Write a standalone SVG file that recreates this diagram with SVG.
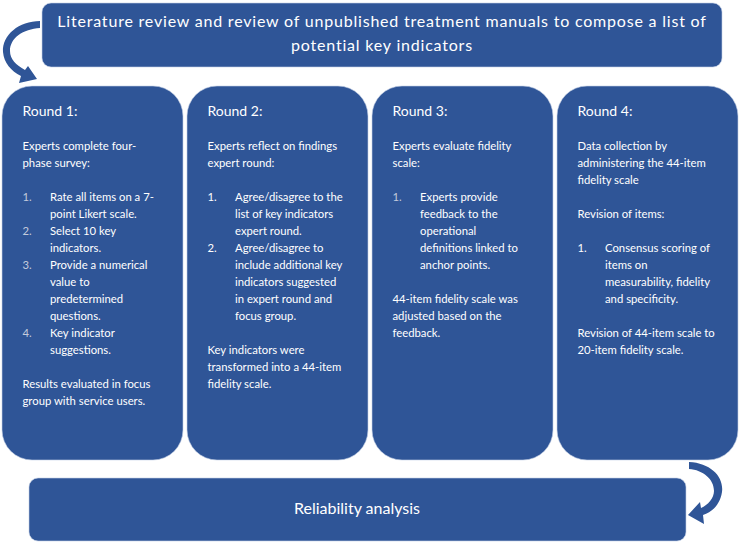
<svg xmlns="http://www.w3.org/2000/svg" width="741" height="545" viewBox="0 0 741 545">
<style>
.box{fill:#2f5597;stroke:#c5d0e6;stroke-width:0.6}
.arrow{fill:#2f5597}
text{font-family:Lato,"Liberation Sans",sans-serif;fill:#ffffff}
.head{font-size:16px;letter-spacing:0.8px;text-anchor:middle}
.title{font-size:14px}
.body{font-size:11.3px}
.num{fill:#c3cbdc}
</style>
<rect width="741" height="545" fill="#ffffff"/>
<g id="top">
<rect class="box" x="42" y="3" width="680" height="64" rx="9"/>
<text class="head" x="382" y="27">Literature review and review of unpublished treatment manuals to compose a list of</text>
<text class="head" x="382" y="51">potential key indicators</text>
</g>
<g id="round1">
<rect class="box" x="2" y="86" width="181" height="374" rx="30"/>
<text class="title" x="22.5" y="116">Round 1:</text>
<text class="body" x="22.5" y="150">Experts complete four-</text>
<text class="body" x="22.5" y="167">phase survey:</text>
<text class="body num" x="22.5" y="201">1.</text>
<text class="body" x="50" y="201">Rate all items on a 7-</text>
<text class="body" x="50" y="218">point Likert scale.</text>
<text class="body num" x="22.5" y="235">2.</text>
<text class="body" x="50" y="235">Select 10 key</text>
<text class="body" x="50" y="252">indicators.</text>
<text class="body num" x="22.5" y="269">3.</text>
<text class="body" x="50" y="269">Provide a numerical</text>
<text class="body" x="50" y="286">value to</text>
<text class="body" x="50" y="303">predetermined</text>
<text class="body" x="50" y="320">questions.</text>
<text class="body num" x="22.5" y="337">4.</text>
<text class="body" x="50" y="337">Key indicator</text>
<text class="body" x="50" y="354">suggestions.</text>
<text class="body" x="22.5" y="388">Results evaluated in focus</text>
<text class="body" x="22.5" y="405">group with service users.</text>
</g>
<g id="round2">
<rect class="box" x="187" y="86" width="181" height="374" rx="30"/>
<text class="title" x="207.5" y="116">Round 2:</text>
<text class="body" x="207.5" y="150">Experts reflect on findings</text>
<text class="body" x="207.5" y="167">expert round:</text>
<text class="body" x="207.5" y="201">1.</text>
<text class="body" x="235" y="201">Agree/disagree to the</text>
<text class="body" x="235" y="218">list of key indicators</text>
<text class="body" x="235" y="235">expert round.</text>
<text class="body" x="207.5" y="252">2.</text>
<text class="body" x="235" y="252">Agree/disagree to</text>
<text class="body" x="235" y="269">include additional key</text>
<text class="body" x="235" y="286">indicators suggested</text>
<text class="body" x="235" y="303">in expert round and</text>
<text class="body" x="235" y="320">focus group.</text>
<text class="body" x="207.5" y="354">Key indicators were</text>
<text class="body" x="207.5" y="371">transformed into a 44-item</text>
<text class="body" x="207.5" y="388">fidelity scale.</text>
</g>
<g id="round3">
<rect class="box" x="372" y="86" width="181" height="374" rx="30"/>
<text class="title" x="392.5" y="116">Round 3:</text>
<text class="body" x="392.5" y="150">Experts evaluate fidelity</text>
<text class="body" x="392.5" y="167">scale:</text>
<text class="body num" x="392.5" y="201">1.</text>
<text class="body" x="420" y="201">Experts provide</text>
<text class="body" x="420" y="218">feedback to the</text>
<text class="body" x="420" y="235">operational</text>
<text class="body" x="420" y="252">definitions linked to</text>
<text class="body" x="420" y="269">anchor points.</text>
<text class="body" x="392.5" y="303">44-item fidelity scale was</text>
<text class="body" x="392.5" y="320">adjusted based on the</text>
<text class="body" x="392.5" y="337">feedback.</text>
</g>
<g id="round4">
<rect class="box" x="557" y="86" width="181" height="374" rx="30"/>
<text class="title" x="577.5" y="116">Round 4:</text>
<text class="body" x="577.5" y="150">Data collection by</text>
<text class="body" x="577.5" y="167">administering the 44-item</text>
<text class="body" x="577.5" y="184">fidelity scale</text>
<text class="body" x="577.5" y="218">Revision of items:</text>
<text class="body" x="577.5" y="252">1.</text>
<text class="body" x="605" y="252">Consensus scoring of</text>
<text class="body" x="605" y="269">items on</text>
<text class="body" x="605" y="286">measurability, fidelity</text>
<text class="body" x="605" y="303">and specificity.</text>
<text class="body" x="577.5" y="337">Revision of 44-item scale to</text>
<text class="body" x="577.5" y="354">20-item fidelity scale.</text>
</g>
<g id="reliability">
<rect class="box" x="29" y="478" width="657" height="63" rx="9"/>
<text class="head" x="357" y="514" style="letter-spacing:0">Reliability analysis</text>
</g>
<g id="connectors">
<path class="arrow" d="M 40 21 C 19 21, 2 35, 3 52 C 4 63, 11 71, 21 76 L 19 83 L 37 79 L 28 66 L 25 70 C 16 65, 10 59, 10 51 C 10 38, 23 29, 40 28 Z"/>
<path class="arrow" d="M 689 462 C 711 463, 724 477, 722 492 C 720 505, 712 512, 703 515 L 704 524 L 688 515 L 700 502 L 701 508 C 708 505, 714 498, 714 491 C 714 479, 703 470, 689 469 Z"/>
</g>
</svg>
